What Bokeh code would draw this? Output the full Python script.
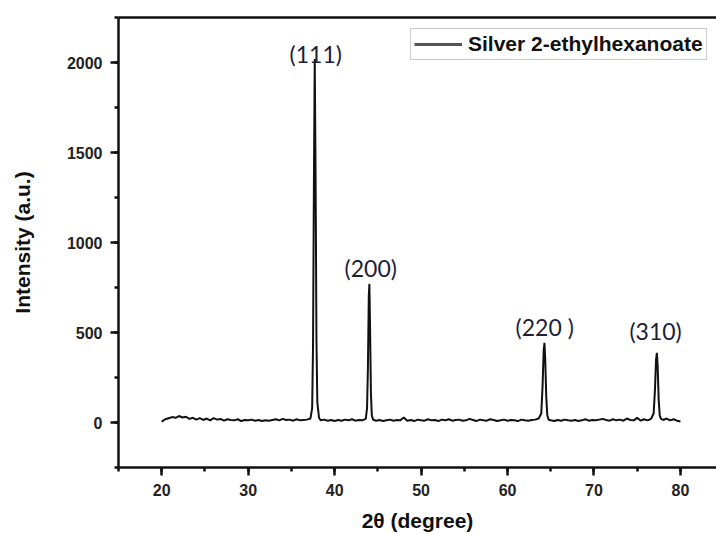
from bokeh.plotting import figure
from bokeh.models import (Range1d, LinearAxis, SingleIntervalTicker, FixedTicker, Legend,
                          LegendItem, ColumnDataSource)
from bokeh.core.properties import value
from bokeh.embed import file_html
from bokeh.resources import INLINE

# ---------------- data ----------------
two_theta = [
    20.0, 20.4, 20.8, 21.2, 21.6, 22.0, 22.4, 22.8, 23.2, 23.6, 24.0, 24.4, 24.8, 25.2, 25.6,
    26.0, 26.4, 26.8, 27.2, 27.6, 28.0, 28.4, 28.8, 29.2, 29.6, 30.0, 30.4, 30.8, 31.2, 31.6,
    32.0, 32.4, 32.8, 33.2, 33.6, 34.0, 34.4, 34.8, 35.2, 35.6, 36.0, 36.4, 36.8, 37.2,
    37.4, 37.5, 37.6, 37.7, 37.8, 37.9, 38.0, 38.2,
    38.4, 38.8, 39.2, 39.6, 40.0, 40.4, 40.8, 41.2, 41.6, 42.0, 42.4, 42.8, 43.2, 43.6,
    43.75, 43.85, 43.95, 44.02, 44.1, 44.2, 44.3, 44.45,
    44.8, 45.2, 45.6, 46.0, 46.4, 46.8, 47.2, 47.6, 48.0, 48.4, 48.8, 49.2, 49.6, 50.0, 50.4,
    50.8, 51.2, 51.6, 52.0, 52.4, 52.8, 53.2, 53.6, 54.0, 54.4, 54.8, 55.2, 55.6, 56.0, 56.4,
    56.8, 57.2, 57.6, 58.0, 58.4, 58.8, 59.2, 59.6, 60.0, 60.4, 60.8, 61.2, 61.6, 62.0, 62.4,
    62.8, 63.2, 63.6,
    63.9, 64.05, 64.18, 64.27, 64.36, 64.48, 64.6, 64.75,
    65.0, 65.4, 65.8, 66.2, 66.6, 67.0, 67.4, 67.8, 68.2, 68.6, 69.0, 69.4, 69.8, 70.2, 70.6,
    71.0, 71.4, 71.8, 72.2, 72.6, 73.0, 73.4, 73.8, 74.2, 74.6, 75.0, 75.4, 75.8, 76.2, 76.6,
    76.9, 77.05, 77.18, 77.27, 77.36, 77.48, 77.6, 77.75,
    78.0, 78.4, 78.8, 79.2, 79.6, 80.0,
]
intensity = [
    5, 18, 24, 30, 26, 36, 28, 32, 20, 26, 16, 24, 14, 22, 12,
    24, 16, 20, 10, 18, 14, 12, 18, 8, 14, 12, 16, 10, 14, 8,
    12, 10, 14, 18, 12, 20, 14, 16, 10, 18, 12, 14, 16, 22,
    80, 420, 1300, 2020, 1350, 450, 110, 25,
    12, 16, 10, 14, 8, 14, 10, 16, 12, 18, 10, 14, 12, 20,
    80, 300, 700, 770, 520, 160, 40, 15,
    10, 14, 8, 12, 16, 10, 14, 12, 28, 10, 14, 8, 16, 12, 10,
    18, 12, 14, 8, 16, 12, 18, 10, 14, 16, 10, 12, 20, 14, 8,
    16, 12, 10, 18, 14, 8, 12, 16, 10, 14, 12, 8, 16, 12, 10,
    14, 16, 22,
    50, 200, 400, 443, 350, 140, 40, 15,
    12, 8, 14, 10, 16, 12, 10, 14, 8, 12, 18, 10, 14, 12, 16,
    20, 14, 10, 18, 12, 16, 10, 22, 14, 12, 26, 10, 18, 12, 20,
    50, 180, 350, 387, 320, 130, 40, 20,
    14, 22, 12, 18, 10, 6,
]
series_name = "Silver 2-ethylhexanoate"

hkl_labels = ["(111)", "(200)", "(220 )", "(310)"]
peak_pos = [37.7, 44.0, 64.3, 77.3]
peak_height = [2020, 770, 443, 387]

x_title = "2\u03b8 (degree)"
y_title = "Intensity (a.u.)"

# ---------------- styles / layout ----------------
label_dx = [1, 1.5, 0, -1.5]
label_dy = [-5, -16, -16, -22]

BOLD = "Liberation Sans"

p = figure(width=716, height=534, x_range=Range1d(15, 84.17), y_range=Range1d(-250, 2250),
           output_backend="svg", toolbar_location=None,
           min_border_left=118, min_border_right=0, min_border_top=17, min_border_bottom=67)
p.outline_line_color = None
p.xgrid.grid_line_color = None
p.ygrid.grid_line_color = None
p.background_fill_color = "white"
p.border_fill_color = "white"

def style_axis(ax, title, standoff):
    ax.axis_line_width = 2.5
    ax.axis_line_color = "#111111"
    ax.major_tick_line_width = 2.5
    ax.minor_tick_line_width = 2.5
    ax.major_tick_line_color = "#111111"
    ax.minor_tick_line_color = "#111111"
    ax.major_tick_out = 8
    ax.major_tick_in = 0
    ax.minor_tick_out = 4
    ax.minor_tick_in = 0
    ax.major_label_text_font = BOLD
    ax.major_label_text_font_style = "bold"
    ax.major_label_text_font_size = "16px"
    ax.major_label_text_color = "#222222"
    ax.major_label_standoff = 8
    ax.axis_label = title
    ax.axis_label_text_font = BOLD
    ax.axis_label_text_font_style = "bold"
    ax.axis_label_text_font_size = "21px"
    ax.axis_label_text_color = "#111111"
    ax.axis_label_standoff = standoff

xa = p.xaxis[0]
xa.ticker = SingleIntervalTicker(interval=10, num_minor_ticks=2)
style_axis(xa, x_title, 10)
ya = p.yaxis[0]
ya.ticker = SingleIntervalTicker(interval=500, num_minor_ticks=2)
style_axis(ya, y_title, 30)

top = LinearAxis(ticker=FixedTicker(ticks=[]))
top.axis_line_width = 2.5
top.axis_line_color = "#111111"
top.major_tick_line_color = None
top.minor_tick_line_color = None
top.major_label_standoff = 0
p.add_layout(top, "above")

p.line(two_theta, intensity, line_color="#111111", line_width=2)

src = ColumnDataSource(dict(x=peak_pos, y=peak_height, t=hkl_labels, dx=label_dx, dy=label_dy))
p.text(x="x", y="y", text="t", x_offset="dx", y_offset="dy", source=src,
       text_font=value("Lato"), text_font_size="23px", text_color="#1e1e38",
       text_align="center", text_baseline="alphabetic")

# legend sample line (grey in the reference); one undefined point so it draws no mark
dummy = p.line(x=[float("nan")], y=[float("nan")], line_color="#555555", line_width=3)
legend = Legend(items=[LegendItem(label=series_name, renderers=[dummy])], location=(292, 407))
legend.glyph_width = 48
legend.glyph_height = 18
legend.label_height = 18
legend.label_standoff = 6
legend.padding = 3
legend.margin = 0
legend.spacing = 0
legend.label_text_font = BOLD
legend.label_text_font_style = "bold"
legend.label_text_font_size = "21px"
legend.label_text_color = "#111111"
legend.border_line_color = "#9a9a9a"
legend.border_line_width = 1.5
legend.background_fill_color = "white"
legend.background_fill_alpha = 1
p.add_layout(legend)

open("out.html", "w").write(file_html(p, INLINE))
